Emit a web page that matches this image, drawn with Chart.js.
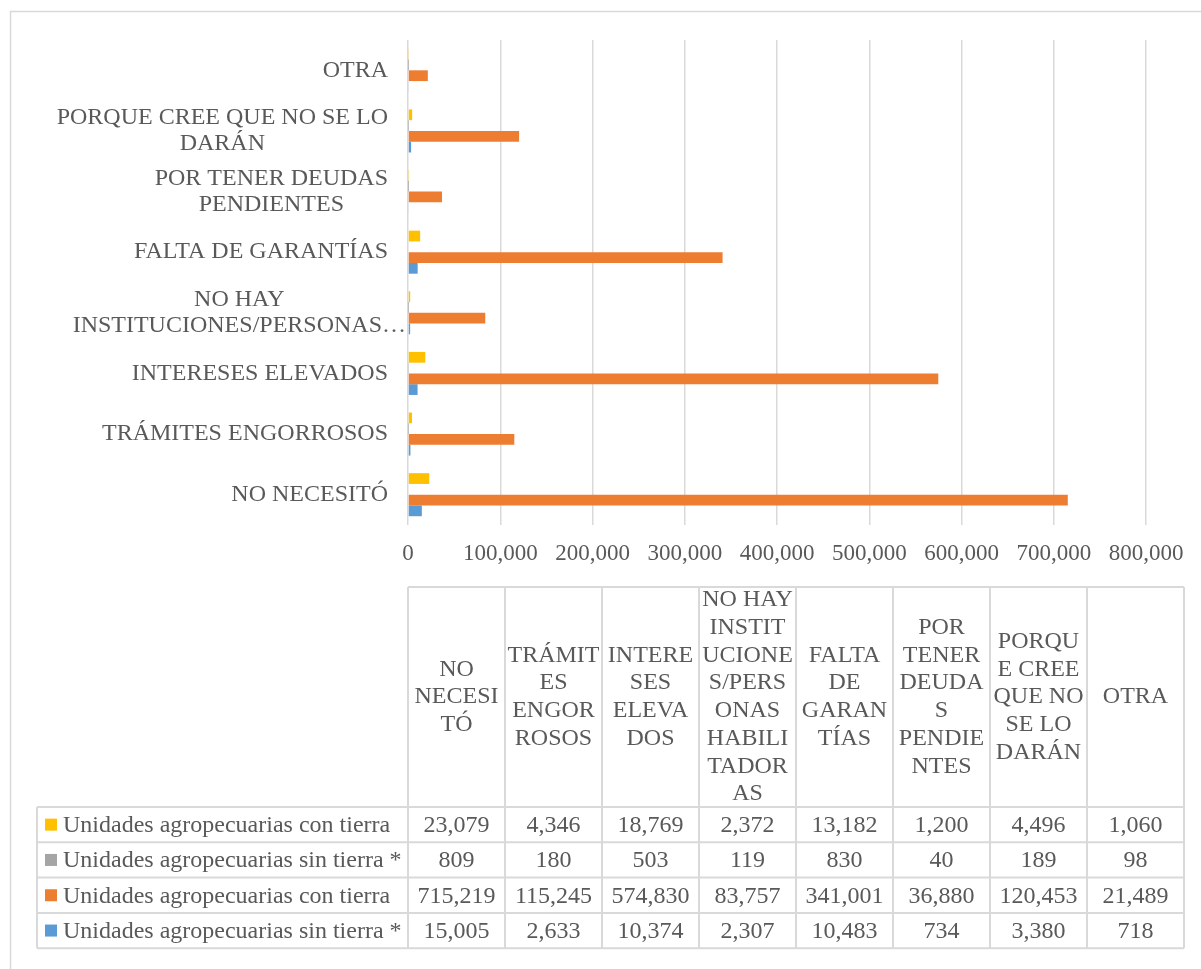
<!DOCTYPE html>
<html>
<head>
<meta charset="utf-8">
<script src="https://cdn.jsdelivr.net/npm/chart.js@4.4.1/dist/chart.umd.min.js"></script>
<style>
  html, body { margin: 0; padding: 0; background: #fff; }
</style>
</head>
<body>
<canvas id="creditChart" width="1201" height="969"></canvas>
<script>
const categories = ['NO NECESITÓ', 'TRÁMITES ENGORROSOS', 'INTERESES ELEVADOS', 'NO HAY INSTITUCIONES/PERSONAS HABILITADORAS', 'FALTA DE GARANTÍAS', 'POR TENER DEUDAS PENDIENTES', 'PORQUE CREE QUE NO SE LO DARÁN', 'OTRA'];

// category names as they wrap beside the bars
const axisLabels = [
    ['NO NECESITÓ'],
    ['TRÁMITES ENGORROSOS'],
    ['INTERESES ELEVADOS'],
    ['NO HAY', 'INSTITUCIONES/PERSONAS…'],
    ['FALTA DE GARANTÍAS'],
    ['POR TENER DEUDAS', 'PENDIENTES'],
    ['PORQUE CREE QUE NO SE LO', 'DARÁN'],
    ['OTRA']
];

// same names, broken the way the narrow table cells wrap them
const tableHeaders = [
    ['NO', 'NECESI', 'TÓ'],
    ['TRÁMIT', 'ES', 'ENGOR', 'ROSOS'],
    ['INTERE', 'SES', 'ELEVA', 'DOS'],
    ['NO HAY', 'INSTIT', 'UCIONE', 'S/PERS', 'ONAS', 'HABILI', 'TADOR', 'AS'],
    ['FALTA', 'DE', 'GARAN', 'TÍAS'],
    ['POR', 'TENER', 'DEUDA', 'S', 'PENDIE', 'NTES'],
    ['PORQU', 'E CREE', 'QUE NO', 'SE LO', 'DARÁN'],
    ['OTRA']
];

const seriesNames = [
    'Unidades agropecuarias con tierra',
    'Unidades agropecuarias sin tierra *',
    'Unidades agropecuarias con tierra',
    'Unidades agropecuarias sin tierra *'
];
const conTierraA = [23079, 4346, 18769, 2372, 13182, 1200, 4496, 1060];
const sinTierraA = [809, 180, 503, 119, 830, 40, 189, 98];
const conTierraB = [715219, 115245, 574830, 83757, 341001, 36880, 120453, 21489];
const sinTierraB = [15005, 2633, 10374, 2307, 10483, 734, 3380, 718];
const seriesValues = [conTierraA, sinTierraA, conTierraB, sinTierraB];
const seriesColors = ['#FFC000', '#A5A5A5', '#ED7D31', '#5B9BD5'];

const xMax = 800000;
const xStep = 100000;

const FONT = '"Liberation Serif", "Times New Roman", serif';
const TEXT = '#595959';
const LINE = '#d9d9d9';

const fmt = v => v.toLocaleString('en-US');

// category labels, each block centred on its widest line
const axisLabelPlugin = {
    id: 'axisLabels',
    afterDraw(chart) {
        const { ctx, chartArea } = chart;
        const y = chart.scales.y;
        ctx.save();
        ctx.font = '24px ' + FONT;
        ctx.fillStyle = TEXT;
        ctx.textAlign = 'center';
        ctx.textBaseline = 'middle';
        axisLabels.forEach((lines, i) => {
            const yc = y.getPixelForValue(i);
            const w = Math.max(...lines.map(l => ctx.measureText(l).width));
            // the clipped label sits closer to the axis
            const gap = lines[lines.length - 1].endsWith('…') ? 2 : 20;
            const xc = chartArea.left - gap - w / 2;
            lines.forEach((line, k) => {
                ctx.fillText(line, xc, yc + (k - (lines.length - 1) / 2) * 26);
            });
        });
        ctx.restore();
    }
};

// data table under the plot
const dataTablePlugin = {
    id: 'dataTable',
    afterDraw(chart) {
        const { ctx, chartArea } = chart;
        const left = chartArea.left;
        const colW = 97;
        const right = left + colW * categories.length;
        const headTop = 587;
        const headBottom = 807;
        const rowH = 35.3;
        const rowLeft = 37;
        const bottom = headBottom + rowH * seriesValues.length;

        ctx.save();
        ctx.strokeStyle = LINE;
        ctx.lineWidth = 2;
        ctx.beginPath();
        ctx.moveTo(left, headTop);
        ctx.lineTo(right, headTop);
        for (let c = 0; c <= categories.length; c++) {
            ctx.moveTo(left + c * colW, headTop);
            ctx.lineTo(left + c * colW, bottom);
        }
        for (let r = 0; r <= seriesValues.length; r++) {
            ctx.moveTo(rowLeft, headBottom + r * rowH);
            ctx.lineTo(right, headBottom + r * rowH);
        }
        ctx.moveTo(rowLeft, headBottom);
        ctx.lineTo(rowLeft, bottom);
        ctx.stroke();

        ctx.font = '24px ' + FONT;
        ctx.fillStyle = TEXT;
        ctx.textAlign = 'center';
        ctx.textBaseline = 'middle';
        const headMid = (headTop + headBottom) / 2;
        tableHeaders.forEach((lines, c) => {
            const xc = left + c * colW + colW / 2;
            lines.forEach((line, k) => {
                ctx.fillText(line, xc, headMid + (k - (lines.length - 1) / 2) * 27.7);
            });
        });

        seriesValues.forEach((values, r) => {
            const yc = headBottom + r * rowH + rowH / 2;
            ctx.fillStyle = seriesColors[r];
            ctx.fillRect(45, yc - 6, 12, 12);
            ctx.fillStyle = TEXT;
            ctx.textAlign = 'left';
            ctx.fillText(seriesNames[r], 63, yc + 1);
            ctx.textAlign = 'center';
            values.forEach((v, c) => {
                ctx.fillText(fmt(v), left + c * colW + colW / 2, yc + 1);
            });
        });

        // chart frame
        ctx.strokeStyle = LINE;
        ctx.lineWidth = 1.5;
        ctx.strokeRect(10.5, 11.5, 1220, 1000);
        ctx.restore();
    }
};

const ctx = document.getElementById('creditChart').getContext('2d');
const creditChart = new Chart(ctx, {
    type: 'bar',
    data: {
        labels: categories,
        datasets: seriesValues.map((values, i) => ({
            label: seriesNames[i],
            data: values,
            backgroundColor: seriesColors[i],
            barPercentage: 1,
            categoryPercentage: 0.71
        }))
    },
    options: {
        indexAxis: 'y',
        responsive: false,
        animation: false,
        layout: {
            padding: { left: 400, right: 55, top: 40, bottom: 384 }
        },
        plugins: {
            legend: { display: false },
            tooltip: { enabled: false }
        },
        scales: {
            y: {
                reverse: true,
                ticks: { display: false },
                grid: { display: false },
                border: { display: false }
            },
            x: {
                min: 0,
                max: xMax,
                ticks: {
                    stepSize: xStep,
                    padding: 15,
                    color: TEXT,
                    font: { family: FONT, size: 23 },
                    callback: v => fmt(v)
                },
                grid: { color: LINE, lineWidth: 1.5, drawTicks: false },
                border: { display: false },
                afterFit: s => { s.height = 60; }
            }
        }
    },
    plugins: [axisLabelPlugin, dataTablePlugin]
});
</script>
</body>
</html>
